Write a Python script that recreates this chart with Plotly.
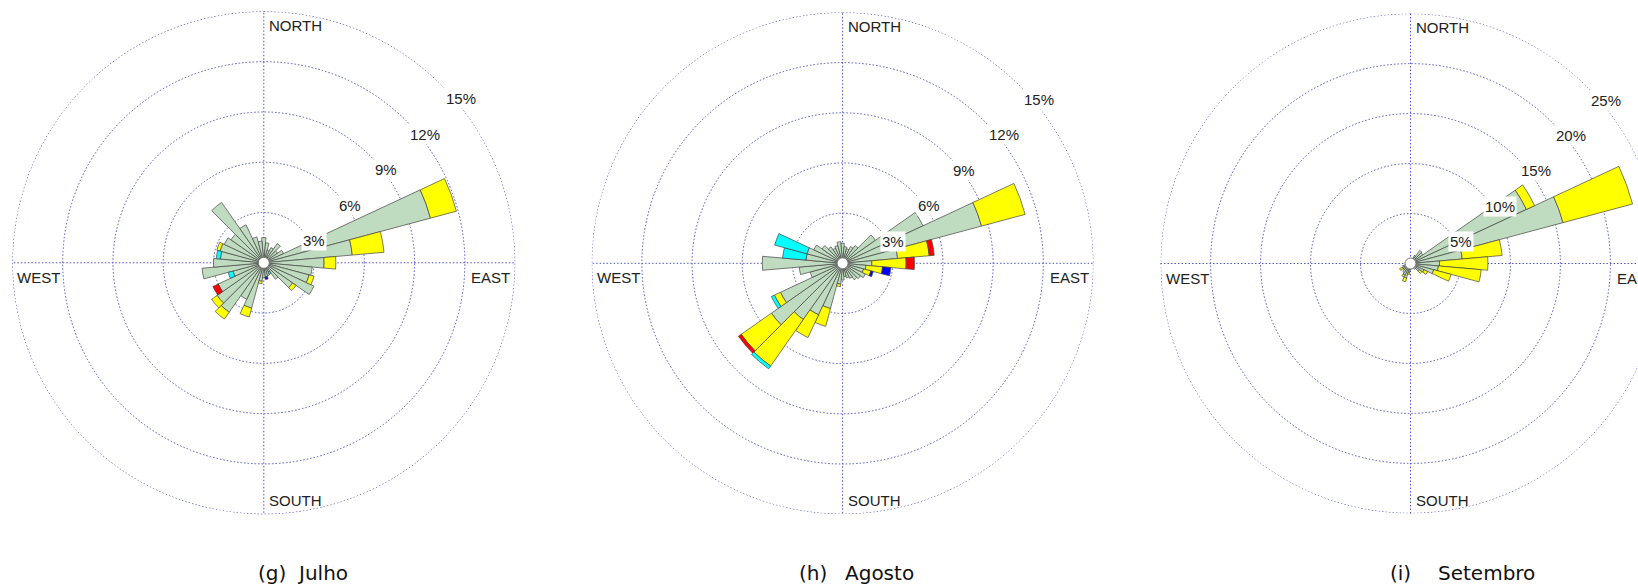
import plotly.graph_objects as go

# Direction bins (degrees from north, clockwise)
directions = list(range(0, 360, 10))

# Frequency (%) per speed class, Julho
julho_green = [1.5, 1.2, 0.8, 1.0, 1.4, 1.0, 1.3, 10.3, 5.3, 3.6, 2.9, 2.8, 3.3, 2.1, 1.2, 0.6, 0.8, 0.85,
               0.9, 1.1, 2.8, 2.4, 3.6, 3.4, 3.0, 1.9, 3.7, 3.0, 2.6, 2.7, 2.6, 2.4, 4.4, 2.5, 1.6, 1.3]
julho_yellow = [0, 0, 0, 0, 0, 0, 0, 1.6, 1.9, 0.7, 0, 0.3, 0, 0.25, 0, 0, 0, 0,
                0, 0.15, 0.55, 0, 0.5, 0.4, 0, 0, 0, 0, 0, 0.2, 0, 0, 0, 0, 0, 0]
julho_red = [0] * 24 + [0.35] + [0] * 11
julho_cyan = [0] * 15 + [0.15] + [0] * 9 + [0.3, 0, 0, 0.25] + [0] * 7
julho_blue = [0] * 17 + [0.15] + [0] * 18

# Agosto
agosto_green = [1.2, 1.0, 0.9, 1.1, 1.3, 2.4, 5.3, 8.6, 3.3, 1.75, 1.4, 1.3, 1.5, 1.3, 1.2, 1.0, 0.9, 0.8,
                1.0, 1.25, 2.8, 3.4, 4.1, 5.2, 4.1, 2.0, 2.6, 4.8, 2.2, 2.2, 1.9, 1.5, 1.2, 1.0, 1.1, 1.3]
agosto_yellow = [0, 0, 0, 0, 0, 0, 0, 2.7, 1.9, 2.05, 1.0, 0.45, 0, 0, 0, 0, 0, 0,
                 0, 0.15, 1.1, 1.5, 3.4, 2.2, 0.4, 0, 0, 0, 0, 0, 0, 0, 0, 0, 0, 0]
agosto_red = [0] * 8 + [0.3, 0.5] + [0] * 13 + [0.2] + [0] * 12
agosto_cyan = [0] * 22 + [0.2, 0, 0.2, 0, 0, 0, 1.4, 2.0] + [0] * 6
agosto_blue = [0] * 10 + [0.5, 0.15] + [0] * 24

# Setembro
setembro_green = [0.4, 0.4, 0.5, 0.9, 1.6, 1.5, 12.8, 15.8, 5.2, 2.9, 2.8, 2.4, 1.5, 1.1, 0.7, 0.5, 0.4, 0.4,
                  0.6, 0.9, 1.5, 1.3, 1.1, 0.9, 0.9, 0.8, 0.5, 0.4, 0.3, 0.3, 0.3, 0.3, 0.3, 0.3, 0.3, 0.4]
setembro_yellow = [0, 0, 0, 0, 0, 0, 0.9, 7.2, 4.0, 4.85, 4.3, 1.8, 0.4, 0.3, 0, 0, 0, 0,
                   0, 0.2, 0.4, 0.2, 0, 0, 0.3, 0, 0, 0, 0, 0, 0, 0, 0, 0, 0, 0]
setembro_red = [0] * 36
setembro_cyan = [0] * 36
setembro_blue = [0] * 36

months = ["Julho", "Agosto", "Setembro"]
letters = ["(g)", "(h)", "(i)"]
ring_ticks = [[3, 6, 9, 12, 15], [3, 6, 9, 12, 15], [5, 10, 15, 20, 25]]
compass = ["NORTH", "EAST", "SOUTH", "WEST"]

series = [
    [julho_green, julho_yellow, julho_red, julho_cyan, julho_blue],
    [agosto_green, agosto_yellow, agosto_red, agosto_cyan, agosto_blue],
    [setembro_green, setembro_yellow, setembro_red, setembro_cyan, setembro_blue],
]
class_colors = ["#c0dcc0", "#ffff00", "#ff0000", "#00ffff", "#0000ff"]

# Page geometry (px): the third rose runs past the right edge of the page
W, H = 1670, 587
centers = [(263.8, 262.8), (842.6, 263.3), (1410.5, 263.5)]
radii = [251.5, 251, 250]
title_x = [(256, 295), (797, 843), (1388, 1436)]

grid_color = "#5454c4"
grid_dash = "1.5px,2px"
text_color = "#222222"
outline_theta = list(range(0, 361, 1))

fig = go.Figure()
layout_polars = {}
annotations = []

for i in range(3):
    sub = "polar" if i == 0 else f"polar{i + 1}"
    cx, cy = centers[i]
    R = radii[i]
    rmax = ring_ticks[i][-1]

    # outermost dotted ring
    fig.add_trace(go.Scatterpolar(
        r=[rmax] * len(outline_theta), theta=outline_theta, mode="lines",
        line=dict(color=grid_color, width=1, dash=grid_dash),
        subplot=sub, showlegend=False, hoverinfo="skip",
    ))

    for vals, col in zip(series[i], class_colors):
        if not any(vals):
            continue
        fig.add_trace(go.Barpolar(
            r=[v if v > 0 else None for v in vals],
            theta=directions,
            width=10,
            marker=dict(color=col, line=dict(color="#444444", width=0.7)),
            subplot=sub,
            showlegend=False,
            hoverinfo="skip",
        ))
    # calm circle at the centre
    fig.add_trace(go.Scatterpolar(
        r=[0], theta=[0], mode="markers",
        marker=dict(size=11, color="white", line=dict(color="#777777", width=1)),
        subplot=sub, showlegend=False, hoverinfo="skip",
    ))

    layout_polars[sub] = dict(
        domain=dict(x=[(cx - R) / W, (cx + R) / W], y=[1 - (cy + R) / H, 1 - (cy - R) / H]),
        bgcolor="white",
        barmode="stack",
        radialaxis=dict(
            range=[0, rmax * 1.0005], tickvals=ring_ticks[i], showticklabels=False,
            ticks="", showline=False, gridcolor=grid_color, griddash=grid_dash, gridwidth=1,
        ),
        angularaxis=dict(
            direction="clockwise", rotation=90, tickvals=[0, 90, 180, 270],
            showticklabels=False, ticks="", showline=False,
            gridcolor=grid_color, griddash=grid_dash, gridwidth=1,
        ),
    )

    # ring labels along the 45 degree bearing
    for v in ring_ticks[i]:
        rp = R * v / rmax
        px = cx + rp * 0.7071 + 2
        py = cy - rp * 0.7071 + 3
        annotations.append(dict(
            x=px / W, y=1 - py / H, xref="paper", yref="paper",
            xanchor="left", yanchor="top", text=f"{v}%", showarrow=False,
            bgcolor="white", borderpad=1,
            font=dict(family="Liberation Sans, Arial", size=15, color=text_color),
        ))

    # compass labels
    cfont = dict(family="Liberation Sans, Arial", size=15, color=text_color)
    annotations += [
        dict(x=(cx + 3) / W, y=1 - (cy - R + 4) / H, xanchor="left", yanchor="top", text=compass[0]),
        dict(x=(cx + R - 3) / W, y=1 - (cy + 4) / H, xanchor="right", yanchor="top", text=compass[1]),
        dict(x=(cx + 3) / W, y=1 - (cy + R - 3) / H, xanchor="left", yanchor="bottom", text=compass[2]),
        dict(x=(cx - R + 3) / W, y=1 - (cy + 4) / H, xanchor="left", yanchor="top", text=compass[3]),
    ]
    for a in annotations[-4:]:
        a.update(xref="paper", yref="paper", showarrow=False, font=cfont)

    # caption below each rose
    tfont = dict(family="DejaVu Sans", size=20, color="#111111")
    lx, mx = title_x[i]
    annotations.append(dict(x=lx / W, y=1 - 573 / H, xref="paper", yref="paper", xanchor="left",
                            yanchor="middle", text=letters[i], showarrow=False, font=tfont))
    annotations.append(dict(x=mx / W, y=1 - 573 / H, xref="paper", yref="paper", xanchor="left",
                            yanchor="middle", text=months[i], showarrow=False, font=tfont))

fig.update_layout(
    width=W, height=H,
    margin=dict(l=0, r=0, t=0, b=0),
    paper_bgcolor="white",
    plot_bgcolor="white",
    annotations=annotations,
    **layout_polars,
)

fig.write_html("out.html", post_script="document.body.style.margin='0';document.body.style.overflow='hidden';")
